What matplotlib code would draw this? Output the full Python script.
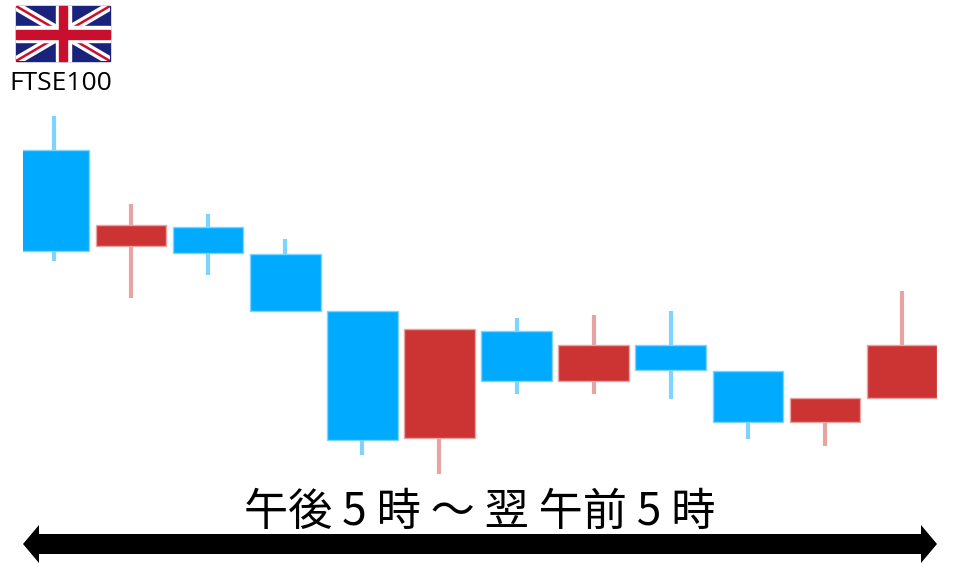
import matplotlib
matplotlib.use("Agg")
import matplotlib.pyplot as plt
from matplotlib.patches import Polygon, Rectangle

plt.rcParams['font.family'] = ['Noto Sans CJK JP', 'DejaVu Sans']

# candles, price scale is arbitrary
opens = [417, 321, 340, 313, 256, 129, 236, 186, 222, 196, 145, 169]
closes = [316, 342, 314, 256, 127, 238, 186, 222, 197, 145, 169, 222]
highs = [451, 363, 353, 328, 256, 238, 249, 252, 256, 196, 169, 276]
lows = [306, 269, 292, 256, 112, 93, 173, 173, 168, 128, 121, 169]

title = 'FTSE100'
span_label = '午後 5 時 ～ 翌 午前 5 時'

blue = '#00aaff'
red = '#cc3333'
wick_blue = '#7fd4ff'
wick_red = '#e8a3a3'

fig = plt.figure(figsize=(9.6, 5.67), dpi=100)

# candles, the first one is cut off by the left edge
ax = fig.add_axes([23 / 960, 0, 914 / 960, 1])
ax.set_xlim(-31 / 77.1, 11 + 35 / 77.1)
ax.set_ylim(0, 567)
ax.axis('off')
for i in range(len(opens)):
    up = closes[i] > opens[i]
    wick = wick_red if up else wick_blue
    body = red if up else blue
    ax.vlines(i, lows[i], highs[i], color=wick, linewidth=3, zorder=1)
    # pale rim, the original is a slightly blurred bitmap
    ax.bar(i, abs(closes[i] - opens[i]), bottom=min(opens[i], closes[i]),
           width=0.915, color=body, edgecolor=wick, linewidth=1, zorder=2)

# everything else in pixels
deco = fig.add_axes([0, 0, 1, 1])
deco.set_xlim(0, 960)
deco.set_ylim(567, 0)
deco.axis('off')
deco.patch.set_alpha(0)

# flag
navy = '#1a237b'
cross = '#c8102e'
x0, x1, y0, y1 = 16, 110, 6, 61
clip = Rectangle((x0, y0), x1 - x0, y1 - y0, transform=deco.transData)
deco.add_patch(Rectangle((x0, y0), x1 - x0, y1 - y0, color=navy, zorder=3))
for (a, b) in [((x0, y0), (x1, y1)), ((x0, y1), (x1, y0))]:
    line, = deco.plot([a[0], b[0]], [a[1], b[1]], color='white', linewidth=6.5, zorder=4, solid_capstyle='butt')
    line.set_clip_path(clip)
    line, = deco.plot([a[0], b[0]], [a[1], b[1]], color=cross, linewidth=1.8, zorder=5, solid_capstyle='butt')
    line.set_clip_path(clip)
deco.add_patch(Rectangle((x0, 26), x1 - x0, 16, color='white', zorder=6))
deco.add_patch(Rectangle((56, y0), 15, y1 - y0, color='white', zorder=6))
deco.add_patch(Rectangle((x0, 29.5), x1 - x0, 9, color=cross, zorder=7))
deco.add_patch(Rectangle((59, y0), 8, y1 - y0, color=cross, zorder=7))

deco.text(61, 84, title, ha='center', va='center', fontsize=19, color='black',
          family=['Open Sans', 'DejaVu Sans'])
deco.text(480, 512, span_label, ha='center', va='center', fontsize=31.8, color='black')

# double arrow
deco.add_patch(Polygon([(23, 544), (39, 525), (39, 534), (921, 534), (921, 525), (937, 544),
                        (921, 563), (921, 554), (39, 554), (39, 563)],
                       closed=True, color='black', linewidth=0))

fig.savefig('out.png', dpi=100)
